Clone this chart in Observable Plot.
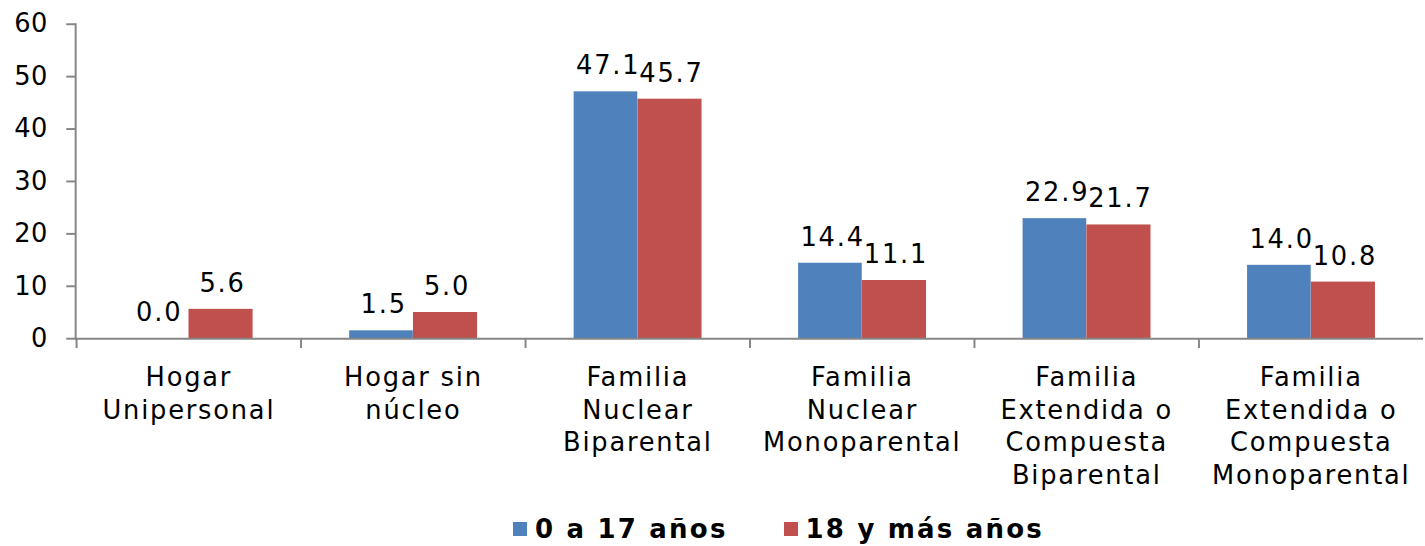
<!DOCTYPE html>
<html>
<head>
<meta charset="utf-8">
<script src="https://cdn.jsdelivr.net/npm/d3@7"></script>
<script src="https://cdn.jsdelivr.net/npm/@observablehq/plot@0.6"></script>
<style>
html, body { margin: 0; padding: 0; background: #fff; overflow: hidden; width: 1425px; height: 546px; }
#chart svg { display: block; }
#legend { display: flex; align-items: center; height: 30px; margin-top: 20px; margin-left: 513px; font-family: 'DejaVu Sans', Verdana, sans-serif; font-weight: bold; font-size: 26px; letter-spacing: 2.2px; color: #000; white-space: nowrap; }
#legend .sw { width: 14px; height: 14px; margin-right: 8px; flex: none; }
#legend .item { display: flex; align-items: center; margin-right: 56px; }
</style>
</head>
<body>
<div id="chart"></div>
<div id="legend"></div>
<script>
const categories = ["Hogar Unipersonal", "Hogar sin núcleo", "Familia Nuclear Biparental", "Familia Nuclear Monoparental", "Familia Extendida o Compuesta Biparental", "Familia Extendida o Compuesta Monoparental"];
const categoryLabels = ["Hogar\nUnipersonal", "Hogar sin\nnúcleo", "Familia\nNuclear\nBiparental", "Familia\nNuclear\nMonoparental", "Familia\nExtendida o\nCompuesta\nBiparental", "Familia\nExtendida o\nCompuesta\nMonoparental"];
const seriesNames = ["0 a 17 años", "18 y más años"];
const seriesColors = ["#4F81BD", "#C0504D"];
const young = [0.0, 1.5, 47.1, 14.4, 22.9, 14.0];
const adult = [5.6, 5.0, 45.7, 11.1, 21.7, 10.8];
const yTicks = [0, 10, 20, 30, 40, 50, 60];

const data = categories.map((c, i) => ({cat: c, young: young[i], adult: adult[i]}));

const W = 1441, ML = 76, MR = 2;
const bw = (W - ML - MR) / categories.length;
const font = "'DejaVu Sans', Verdana, sans-serif";
const grey = "#868686";

const chart = Plot.plot({
  width: W,
  height: 500,
  marginTop: 24,
  marginBottom: 158,
  marginLeft: ML,
  marginRight: MR,
  style: {fontFamily: font, color: "#000", background: "white", overflow: "visible"},
  x: {domain: categories, padding: 0},
  y: {domain: [0, 60]},
  marks: [
    Plot.barY(data, {x: "cat", y: "young", fill: seriesColors[0], insetLeft: bw / 2 - 64.5, insetRight: bw / 2}),
    Plot.barY(data, {x: "cat", y: "adult", fill: seriesColors[1], insetLeft: bw / 2, insetRight: bw / 2 - 65}),
    Plot.text(data, {x: "cat", y: "young", text: d => d.young.toFixed(1), dx: -30, dy: -26, fontSize: 26, fill: "#000"}),
    Plot.text(data, {x: "cat", y: "adult", text: d => d.adult.toFixed(1), dx: 34, dy: -26, fontSize: 26, fill: "#000"}),
    Plot.ruleY([0], {stroke: grey, strokeWidth: 2}),
    Plot.frame({anchor: "left", stroke: grey, strokeWidth: 2}),
    Plot.axisY({ticks: yTicks, tickSize: 9, tickPadding: 19, fontSize: 26, stroke: grey, strokeWidth: 2, fill: "#000", label: null, tickFormat: d => String(d)}),
    Plot.axisX({tickSize: 10, tickFormat: () => "", dx: -bw / 2, stroke: grey, strokeWidth: 2, label: null}),
    Plot.axisX({tickSize: 0, tickPadding: 25, fontSize: 26, lineHeight: 1.26, fill: "#000", label: null,
      tickFormat: d => categoryLabels[categories.indexOf(d)]})
  ]
});
chart.querySelectorAll("text").forEach(t => t.style.letterSpacing = "1.8px");
chart.querySelectorAll("g[aria-label='y-axis tick label'] text, g[aria-label='y-axis tick label']").forEach(t => t.style.letterSpacing = "0.5px");
document.getElementById("chart").append(chart);

const legend = document.getElementById("legend");
seriesNames.forEach((name, i) => {
  const item = document.createElement("div");
  item.className = "item";
  const sw = document.createElement("div");
  sw.className = "sw";
  sw.style.background = seriesColors[i];
  const t = document.createElement("span");
  t.textContent = name;
  item.append(sw, t);
  legend.append(item);
});
</script>
</body>
</html>
